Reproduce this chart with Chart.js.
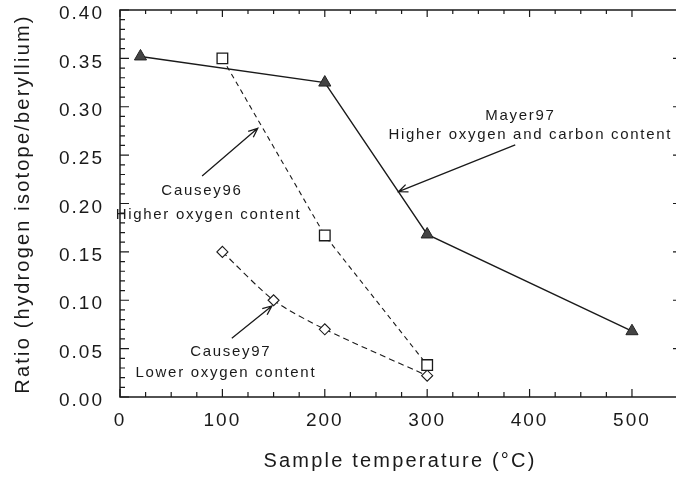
<!DOCTYPE html>
<html>
<head>
<meta charset="utf-8">
<script src="https://cdn.jsdelivr.net/npm/chart.js@4.4.1/dist/chart.umd.min.js"></script>
<style>
  html, body { margin: 0; padding: 0; background: #fff; }
  #wrap { width: 676px; height: 479px; }
</style>
</head>
<body>
<div id="wrap"><canvas id="chart" width="676" height="479"></canvas></div>
<script>
"use strict";

// values
const mayerTemps = [20, 200, 300, 500];
const mayerRatio = [0.352, 0.325, 0.168, 0.068];

const causey96Temps = [100, 200, 300];
const causey96Ratio = [0.350, 0.167, 0.033];

const causey97Temps = [100, 150, 200, 300];
const causey97Ratio = [0.150, 0.100, 0.070, 0.022];

const xTickLabels = [0, 100, 200, 300, 400, 500];
const yTickLabels = [0.00, 0.05, 0.10, 0.15, 0.20, 0.25, 0.30, 0.35, 0.40];

const xTitle = 'Sample temperature (°C)';
const yTitle = 'Ratio (hydrogen isotope/beryllium)';

// text notes and arrows, in data units
const notes = [
  { lines: ['Causey96', 'Higher oxygen content'], at: [[80, 0.2088], [86.5, 0.184]],
    tail: [80.2, 0.2284], head: [134.5, 0.2777] },
  { lines: ['Mayer97', 'Higher oxygen and carbon content'], at: [[391, 0.2863], [400.7, 0.2667]],
    tail: [386, 0.2605], head: [272, 0.2122] },
  { lines: ['Causey97', 'Lower oxygen content'], at: [[108.2, 0.0424], [103.4, 0.0207]],
    tail: [109.2, 0.0607], head: [148.3, 0.0941] }
];

const ink = '#1a1a1a';

function pts(xs, ys) {
  return xs.map((x, i) => ({ x: x, y: ys[i] }));
}

function isMajorY(v) {
  return Math.abs(v / 0.05 - Math.round(v / 0.05)) < 1e-6;
}

const framePlugin = {
  id: 'frame',
  beforeDraw(chart) {
    chart.ctx.letterSpacing = '2px';
  },
  beforeDatasetsDraw(chart) {
    const ctx = chart.ctx;
    const a = chart.chartArea;
    const xs = chart.scales.x;
    const ys = chart.scales.y;
    ctx.save();
    ctx.strokeStyle = ink;
    ctx.lineWidth = 1.5;
    ctx.beginPath();
    ctx.moveTo(a.right, a.top);
    ctx.lineTo(a.left, a.top);
    ctx.lineTo(a.left, a.bottom);
    ctx.lineTo(a.right, a.bottom);
    ctx.stroke();

    ctx.lineWidth = 1.2;
    ctx.beginPath();
    xs.ticks.forEach(t => {
      const px = xs.getPixelForValue(t.value);
      const major = t.value % 100 === 0;
      ctx.moveTo(px, a.bottom);
      ctx.lineTo(px, a.bottom - (major ? 8 : 5));
      ctx.moveTo(px, a.top);
      ctx.lineTo(px, a.top + (major ? 7 : 4));
    });
    ys.ticks.forEach(t => {
      const py = ys.getPixelForValue(t.value);
      const major = isMajorY(t.value);
      ctx.moveTo(a.left, py);
      ctx.lineTo(a.left + (major ? 9 : 5), py);
      // right frame sits just past the canvas edge, only long ticks peek in
      if (major && t.value > 0 && t.value < 0.4) {
        ctx.moveTo(a.right, py);
        ctx.lineTo(a.right - 3, py);
      }
    });
    ctx.stroke();
    ctx.restore();
  },
  afterDraw(chart) {
    const ctx = chart.ctx;
    const xs = chart.scales.x;
    const ys = chart.scales.y;
    ctx.save();
    ctx.fillStyle = ink;
    ctx.strokeStyle = ink;

    // axis titles
    ctx.font = '20px "Liberation Sans", Arial, sans-serif';
    ctx.letterSpacing = '2.2px';
    ctx.textAlign = 'center';
    ctx.textBaseline = 'alphabetic';
    ctx.fillText(xTitle, 400, 467);
    ctx.save();
    ctx.translate(29, 204);
    ctx.rotate(-Math.PI / 2);
    ctx.fillText(yTitle, 0, 0);
    ctx.restore();

    // notes
    ctx.font = '15px "Liberation Sans", Arial, sans-serif';
    ctx.letterSpacing = '1.7px';
    notes.forEach(n => {
      n.lines.forEach((s, i) => {
        ctx.fillText(s, xs.getPixelForValue(n.at[i][0]), ys.getPixelForValue(n.at[i][1]));
      });
      const x0 = xs.getPixelForValue(n.tail[0]), y0 = ys.getPixelForValue(n.tail[1]);
      const x1 = xs.getPixelForValue(n.head[0]), y1 = ys.getPixelForValue(n.head[1]);
      const ang = Math.atan2(y1 - y0, x1 - x0);
      ctx.lineWidth = 1.3;
      ctx.beginPath();
      ctx.moveTo(x0, y0);
      ctx.lineTo(x1, y1);
      ctx.moveTo(x1 - 10 * Math.cos(ang - 0.4), y1 - 10 * Math.sin(ang - 0.4));
      ctx.lineTo(x1, y1);
      ctx.lineTo(x1 - 10 * Math.cos(ang + 0.4), y1 - 10 * Math.sin(ang + 0.4));
      ctx.stroke();
    });
    ctx.restore();
    ctx.letterSpacing = '0px';
  }
};

function noPad(scale) {
  scale.paddingLeft = 0;
  scale.paddingRight = 0;
  scale.paddingTop = 0;
  scale.paddingBottom = 0;
}

new Chart(document.getElementById('chart'), {
  type: 'scatter',
  data: {
    datasets: [
      {
        label: 'Mayer97',
        data: pts(mayerTemps, mayerRatio),
        showLine: true,
        borderColor: ink,
        borderWidth: 1.4,
        backgroundColor: '#444',
        pointStyle: 'triangle',
        pointRadius: 7,
        pointBorderColor: '#222',
        pointBorderWidth: 1
      },
      {
        label: 'Causey96',
        data: pts(causey96Temps, causey96Ratio),
        showLine: true,
        borderColor: ink,
        borderWidth: 1.1,
        borderDash: [5, 4],
        backgroundColor: '#fff',
        pointStyle: 'rect',
        pointRadius: 7.5,
        pointBorderColor: ink,
        pointBorderWidth: 1.3
      },
      {
        label: 'Causey97',
        data: pts(causey97Temps, causey97Ratio),
        showLine: true,
        tension: 0.25,
        borderColor: ink,
        borderWidth: 1.1,
        borderDash: [6, 4],
        backgroundColor: '#fff',
        pointStyle: 'rectRot',
        pointRadius: 5.5,
        pointBorderColor: ink,
        pointBorderWidth: 1.1
      }
    ]
  },
  options: {
    responsive: false,
    animation: false,
    devicePixelRatio: 1,
    layout: { autoPadding: false, padding: { top: 10, right: 0, left: 0, bottom: 0 } },
    plugins: {
      legend: { display: false },
      tooltip: { enabled: false }
    },
    scales: {
      x: {
        type: 'linear',
        min: 0,
        max: 543,
        grid: { display: false, drawTicks: false },
        border: { display: false },
        afterFit(scale) { scale.height = 82; noPad(scale); },
        afterBuildTicks(scale) {
          scale.ticks = scale.ticks.filter(t => t.value <= 500 && t.value % 25 === 0);
        },
        ticks: {
          stepSize: 25,
          autoSkip: false,
          maxRotation: 0,
          padding: 12,
          color: ink,
          font: { family: '"Liberation Sans", Arial, sans-serif', size: 19 },
          callback: v => xTickLabels.includes(v) ? String(v) : ''
        }
      },
      y: {
        type: 'linear',
        min: 0,
        max: 0.4,
        grid: { display: false, drawTicks: false },
        border: { display: false },
        afterFit(scale) { scale.width = 120; noPad(scale); },
        ticks: {
          stepSize: 0.01,
          autoSkip: false,
          padding: 16,
          labelOffset: 4,
          color: ink,
          font: { family: '"Liberation Sans", Arial, sans-serif', size: 19 },
          callback: v => yTickLabels.some(t => Math.abs(t - v) < 1e-6) ? v.toFixed(2) : ''
        }
      }
    }
  },
  plugins: [framePlugin]
});
</script>
</body>
</html>
